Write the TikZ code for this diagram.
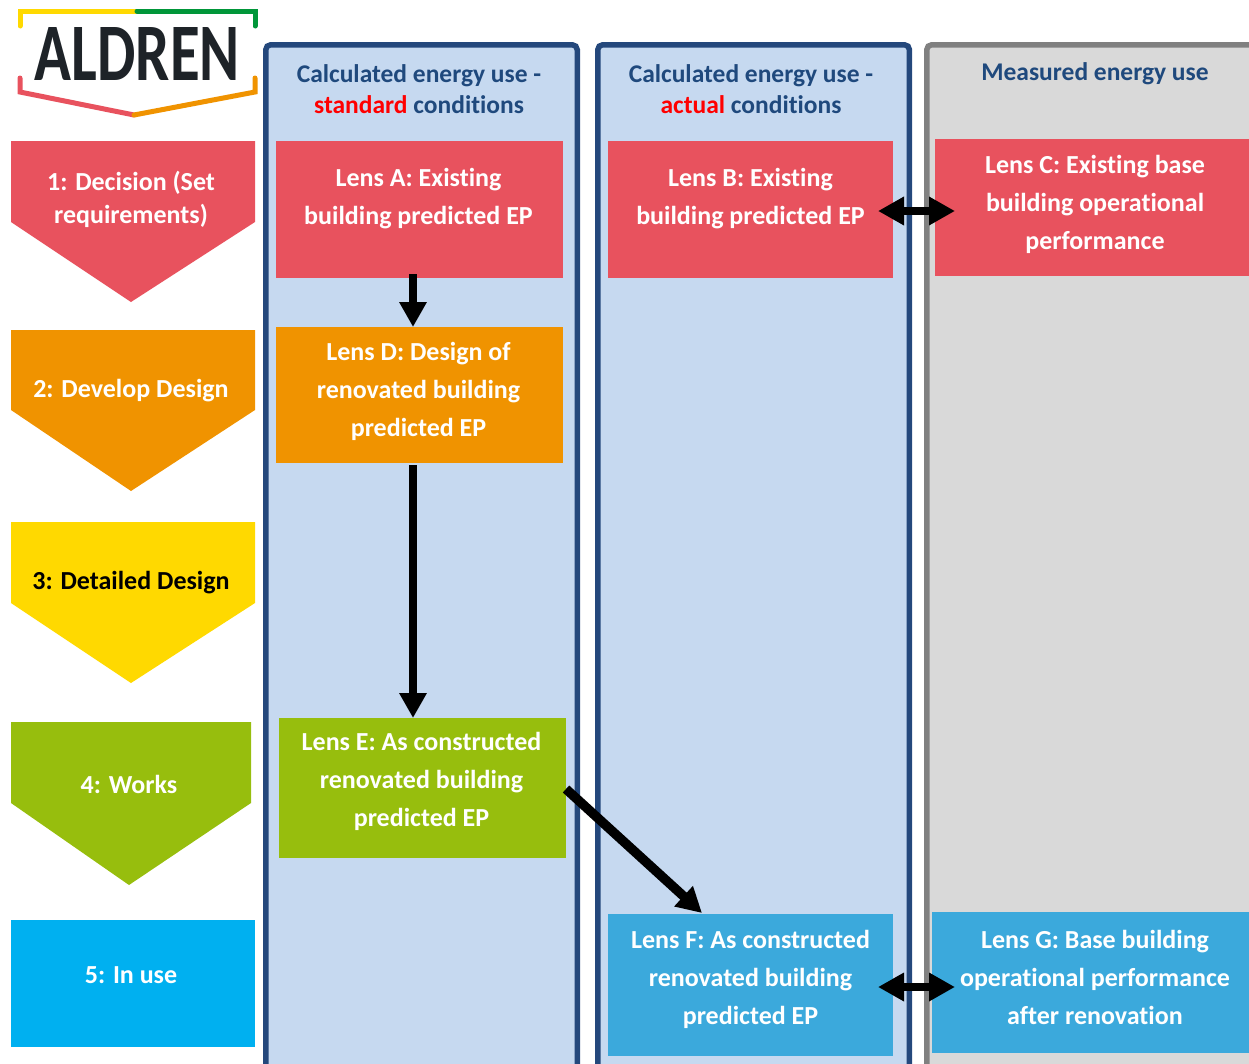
\documentclass[tikz,border=0pt]{standalone}
\usepackage{fontspec}
\setmainfont{Carlito}[Ligatures=NoCommon]
\usetikzlibrary{arrows.meta}
\definecolor{cred}{RGB}{232,82,94}
\definecolor{corange}{RGB}{240,147,0}
\definecolor{cyellow}{RGB}{255,217,0}
\definecolor{cgreen}{RGB}{151,190,13}
\definecolor{ccyan}{RGB}{0,176,240}
\definecolor{cblue}{RGB}{59,169,220}
\definecolor{colfill}{RGB}{198,217,240}
\definecolor{colline}{RGB}{36,72,124}
\definecolor{grayfill}{RGB}{217,217,217}
\definecolor{grayline}{RGB}{128,128,128}
\definecolor{hdr}{RGB}{31,73,125}
\definecolor{logodark}{RGB}{30,35,40}
\definecolor{logoyellow}{RGB}{255,217,0}
\definecolor{logogreen}{RGB}{0,150,57}
\begin{document}
\begin{tikzpicture}[x=1pt,y=-1pt,
  colbox/.style={draw, line width=5.5pt, rounded corners=5pt, anchor=north west, inner sep=0pt, minimum height=1060pt},
  lensbox/.style={anchor=north west, inner sep=0pt, outer sep=0pt},
  lenstext/.style={text=white, font=\fontsize{26}{38}\selectfont\bfseries, align=center, inner sep=0pt},
  hdrtext/.style={text=hdr, font=\fontsize{25.5}{31}\selectfont\bfseries, align=center, inner sep=0pt},
  steptext/.style={font=\fontsize{26}{33}\selectfont\bfseries, align=center, inner sep=0pt},
  arr/.style={line width=8pt, -{Triangle[length=25pt,width=26pt]}},
  darr/.style={line width=8.5pt, {Triangle[length=26pt,width=27pt]}-{Triangle[length=26pt,width=27pt]}},
  logoline/.style={line width=5pt, line cap=round}
]
\useasboundingbox (0,0) rectangle (1249,1063);
\clip (0,0) rectangle (1249,1063);

% columns
\node[colbox, draw=colline, fill=colfill, minimum width=311.5pt] (col1) at (263,42) {};
\node[colbox, draw=colline, fill=colfill, minimum width=311.7pt] (col2) at (595,42) {};
\node[colbox, draw=grayline, fill=grayfill, minimum width=360pt] (col3) at (924,42) {};

% headers
\node[hdrtext] (h1) at (419,89) {Calculated energy use -\\\textcolor{red}{standard} conditions};
\node[hdrtext] (h2) at (751,89) {Calculated energy use -\\\textcolor{red}{actual} conditions};
\node[hdrtext] (h3) at (1095,74) {Measured energy use};

% logo
\draw[logoline, logoyellow] (20,26) -- (20,11) -- (137,11);
\draw[logoline, logogreen] (137,11) -- (255,11) -- (255,26);
\draw[logoline, cred] (20,78) -- (20,92) -- (134,115);
\draw[logoline, corange] (134,115) -- (255,92) -- (255,78);
\node[inner sep=0pt, text=logodark] (logo) at (137.5,53.5) {\resizebox{205pt}{53pt}{\bfseries ALDREN}};

% step chevrons
\fill[cred] (11,141) -- (255,141) -- (255,222) -- (131,302) -- (11,222) -- cycle;
\node[steptext, text=white] (s1) at (131,199) {1: Decision (Set\\requirements)};
\fill[corange] (11,330) -- (255,330) -- (255,410) -- (131,491) -- (11,410) -- cycle;
\node[steptext, text=white] (s2) at (131,391) {2: Develop Design};
\fill[cyellow] (11,522) -- (255,522) -- (255,603) -- (131,683) -- (11,603) -- cycle;
\node[steptext, text=black] (s3) at (131,583) {3: Detailed Design};
\fill[cgreen] (11,722) -- (251,722) -- (251,803) -- (129,885) -- (11,803) -- cycle;
\node[steptext, text=white] (s4) at (129,784) {4: Works};
\fill[ccyan] (11,920) rectangle (255,1047);
\node[steptext, text=white] (s5) at (131,975) {5: In use};

% lens boxes
\node[lensbox, fill=cred, minimum width=287pt, minimum height=137pt] (A) at (276,141) {};
\node[lenstext] (At) at (418.5,199) {Lens A: Existing\\building predicted EP};
\node[lensbox, fill=cred, minimum width=285pt, minimum height=137pt] (B) at (608,141) {};
\node[lenstext] (Bt) at (750.5,199) {Lens B: Existing\\building predicted EP};
\node[lensbox, fill=cred, minimum width=330pt, minimum height=137pt] (C) at (935,139) {};
\node[lenstext] (Ct) at (1095,204) {Lens C: Existing base\\building operational\\performance};
\node[lensbox, fill=corange, minimum width=287pt, minimum height=136pt] (D) at (276,327) {};
\node[lenstext] (Dt) at (418.5,391) {Lens D: Design of\\renovated building\\predicted EP};
\node[lensbox, fill=cgreen, minimum width=287pt, minimum height=140pt] (E) at (279,718) {};
\node[lenstext] (Et) at (421.5,781) {Lens E: As constructed\\renovated building\\predicted EP};
\node[lensbox, fill=cblue, minimum width=285pt, minimum height=142pt] (F) at (608,914) {};
\node[lenstext] (Ft) at (750.5,979) {Lens F: As constructed\\renovated building\\predicted EP};
\node[lensbox, fill=cblue, minimum width=330pt, minimum height=141pt] (G) at (932,912) {};
\node[lenstext] (Gt) at (1095,977) {Lens G: Base building\\operational performance\\after renovation};

% arrows
\draw[arr] ([xshift=-6.5pt,yshift=4pt]A.south) -- ([xshift=-6.5pt]D.north);
\draw[arr] ([xshift=-6.5pt,yshift=-2pt]D.south) -- ([xshift=-9.5pt]E.north);
\draw[arr, line width=9.5pt] ([yshift=-1pt]E.east) -- ([xshift=-48.5pt,yshift=1pt]F.north);
\draw[darr] ([xshift=-15pt,yshift=-1.5pt]B.east) -- ([xshift=20pt,yshift=-3.5pt]C.west);
\draw[darr] ([xshift=-15pt,yshift=-2pt]F.east) -- ([xshift=23pt,yshift=-4.5pt]G.west);
\end{tikzpicture}
\end{document}
